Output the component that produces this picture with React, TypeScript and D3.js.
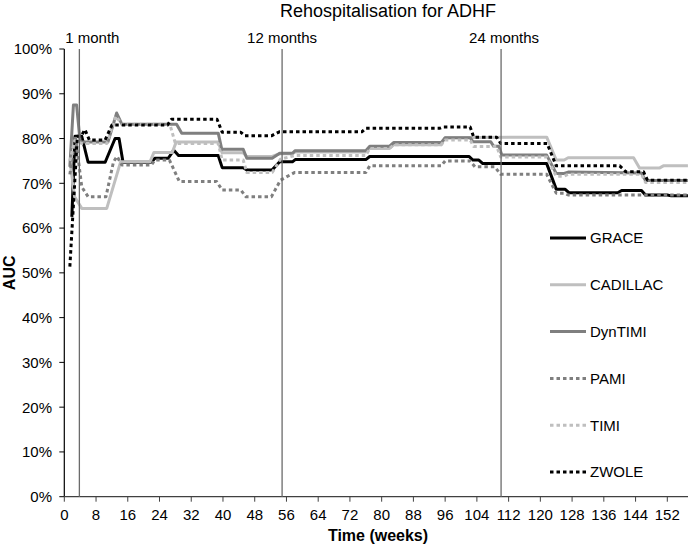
import React from "react";
import * as d3 from "d3";

type Pt = [number, number];

const xTicks: number[] = d3.range(0, 153, 8);
const yTicks: number[] = d3.range(0, 101, 10);

const refLines = [
  { week: 3.8, label: "1 month", dx: 13 },
  { week: 54.9, label: "12 months", dx: 0 },
  { week: 110.1, label: "24 months", dx: 3 },
];

const GRACE: Pt[] = [
  [1.9, 62.5], [2.7, 80.5], [4.4, 80.5], [6.0, 74.7], [10.3, 74.7], [12.8, 80], [13.8, 80], [14.8, 74.7],
  [22.0, 74.7], [22.8, 75.6], [26.2, 75.6], [27.6, 77.4], [28.8, 76.2], [38.8, 76.2], [39.8, 73.5],
  [45.1, 73.5], [46.0, 73.0], [52.4, 73.0], [54.3, 74.8], [57.5, 74.8], [58.2, 75.3], [76, 75.3],
  [77, 76.0], [102, 76.0], [103, 75.2], [104.5, 75.2], [105.5, 74.4], [121.6, 74.4], [124, 68.7],
  [126.2, 68.7], [127.2, 67.9], [139.5, 67.9], [140.5, 68.4], [145.5, 68.4], [146.5, 67.4], [152, 67.4],
  [153, 67.2], [157.2, 67.2],
];

const CADILLAC: Pt[] = [
  [1.5, 74.5], [2.6, 67], [4.4, 64.4], [10.7, 64.4], [14.2, 74.8], [21.6, 74.8], [22.6, 76.9], [27.2, 76.9],
  [28.2, 79.2], [38.8, 79.2], [39.8, 76.8], [45.1, 76.8], [46, 76.0], [52.4, 76.0], [54.3, 76.6], [57.5, 76.6],
  [58.2, 77.0], [76, 77.0], [77, 77.8], [82, 77.8], [83, 78.6], [95, 78.6], [96, 80.2], [121.6, 80.3],
  [124, 75.2], [126, 75.2], [127, 75.7], [143.5, 75.7], [145, 73.4], [150, 73.4], [151, 73.9], [157.2, 73.9],
];

const DynTIMI: Pt[] = [
  [1.4, 73.7], [2.3, 87.5], [3.1, 87.5], [4.0, 79.2], [11, 79.2], [13.2, 85.7], [14.5, 83.2], [28.3, 83.2],
  [29.6, 81.2], [38.8, 81.2], [39.7, 77.6], [45.1, 77.6], [46, 75.6], [52.4, 75.6], [54.3, 76.7],
  [57.5, 76.7], [58.2, 77.3], [76, 77.3], [77, 78.3], [82, 78.3], [83, 79.1], [95, 79.1], [96, 80.2],
  [102.3, 80.2], [103, 79.3], [107.5, 79.3], [108.2, 78.3], [109.5, 78.3], [110.3, 76.3], [121.6, 76.3],
  [124, 72.2], [126, 72.2], [127, 72.5], [145.5, 72.3], [146.5, 70.6], [157.2, 70.6],
];

const PAMI: Pt[] = [
  [1.4, 72], [2.8, 80.5], [4.4, 69.2], [6, 67], [10.5, 67], [12.4, 74.8], [13.3, 76], [14.5, 74.1],
  [22, 74.1], [22.8, 75.2], [26.5, 75.2], [29, 70.4], [38.4, 70.4], [39.8, 68.5], [44.5, 68.5],
  [45.8, 67], [52.2, 67], [54.5, 70.7], [58, 72.4], [76, 72.4], [77, 73.9], [95, 73.9], [96, 75],
  [102.3, 75], [103.5, 73.7], [108.5, 73.7], [110, 72], [121.6, 72], [124, 67.8], [126, 67.8],
  [127, 67.4], [157.2, 67.4],
];

const TIMI: Pt[] = [
  [1.4, 75], [2.6, 79.5], [4.4, 78.9], [10.7, 78.9], [13, 85], [14.5, 83.2], [26.6, 83.2], [28, 78.9],
  [38.8, 78.9], [39.8, 75.2], [45.1, 75.2], [46, 72.4], [52.4, 72.4], [54.5, 75.4], [58, 76.2], [76, 76.2],
  [77, 77.8], [82, 77.8], [83, 78.6], [95, 78.6], [96, 79.7], [102.3, 79.7], [103.2, 78.2], [109, 78.2],
  [110, 75.9], [121.6, 75.9], [124, 71.6], [126, 71.6], [127, 72.0], [145.5, 72.0], [146.5, 70.2],
  [157.2, 70.2],
];

const ZWOLE: Pt[] = [
  [1.4, 51.4], [3.3, 80.5], [4.2, 80.5], [5.2, 82], [6.3, 79.7], [10.3, 79.7], [12, 83], [26, 83],
  [27, 84.3], [38.5, 84.3], [39.8, 81.4], [44.5, 81.4], [45.5, 80.6], [52.2, 80.6], [54.2, 81.5],
  [75, 81.5], [76, 82.3], [94.7, 82.3], [95.5, 82.6], [102.3, 82.6], [103.2, 80.3], [109, 80.3],
  [110, 78.9], [121.7, 78.9], [124, 73.9], [140, 73.9], [141.5, 72.6], [146, 72.6], [147, 70.7],
  [157.2, 70.7],
];

const seriesNames = ["GRACE", "CADILLAC", "DynTIMI", "PAMI", "TIMI", "ZWOLE"];
const seriesData: Pt[][] = [GRACE, CADILLAC, DynTIMI, PAMI, TIMI, ZWOLE];
const seriesColors = ["#000000", "#bfbfbf", "#7f7f7f", "#7f7f7f", "#bfbfbf", "#000000"];
const seriesDashed = [false, false, false, true, true, true];

const FONT = "'Liberation Sans', Arial, Helvetica, sans-serif";

export default function App() {
  const W = 688;
  const H = 547;
  const x = d3.scaleLinear().domain([0, 152]).range([64.3, 667.3]);
  const y = d3.scaleLinear().domain([0, 100]).range([496.7, 49]);
  const line = d3
    .line<Pt>()
    .x((d) => x(d[0]))
    .y((d) => y(d[1]))
    .curve(d3.curveLinear);

  const legendY = d3.scaleLinear().domain([0, 5]).range([238, 472]);

  return (
    <svg
      width={W}
      height={H}
      style={{ position: "absolute", left: 0, top: 0, background: "#fff" }}
      fontFamily={FONT}
    >
      <rect x={0} y={0} width={W} height={H} fill="#fff" />
      <text x={388} y={17} fontSize={18} textAnchor="middle" fill="#000">
        Rehospitalisation for ADHF
      </text>

      {/* y axis */}
      <line x1={x(0)} x2={x(0)} y1={y(100)} y2={y(0)} stroke="#000" strokeWidth={1.2} />
      {yTicks.map((t) => (
        <g key={"y" + t}>
          <line x1={x(0) - 5} x2={x(0)} y1={y(t)} y2={y(t)} stroke="#000" strokeWidth={1} />
          <text x={52} y={y(t)} dy="0.36em" fontSize={15} textAnchor="end" fill="#000">
            {t + "%"}
          </text>
        </g>
      ))}

      {/* x axis */}
      <line x1={x(0)} x2={W} y1={y(0)} y2={y(0)} stroke="#404040" strokeWidth={1.2} />
      {xTicks.map((t) => (
        <g key={"x" + t}>
          <line x1={x(t)} x2={x(t)} y1={y(0)} y2={y(0) + 5} stroke="#404040" strokeWidth={1} />
          <text x={x(t)} y={520} fontSize={15} textAnchor="middle" fill="#000">
            {t}
          </text>
        </g>
      ))}

      <text x={378} y={541} fontSize={16} fontWeight="bold" textAnchor="middle" fill="#000">
        Time (weeks)
      </text>
      <text
        transform={`translate(15, ${y(50)}) rotate(-90)`}
        fontSize={16}
        fontWeight="bold"
        textAnchor="middle"
        fill="#000"
      >
        AUC
      </text>

      {/* series */}
      {seriesData.map((d, i) => (
        <path
          key={seriesNames[i]}
          d={line(d) || ""}
          fill="none"
          stroke={seriesColors[i]}
          strokeWidth={3}
          strokeDasharray={seriesDashed[i] ? "3.5 3" : undefined}
          strokeLinejoin="round"
        />
      ))}

      {/* reference lines */}
      {refLines.map((r) => (
        <g key={r.label}>
          <line x1={x(r.week)} x2={x(r.week)} y1={y(100)} y2={y(0)} stroke="#6b6b6b" strokeWidth={1.3} />
          <text x={x(r.week) + r.dx} y={43} fontSize={15} textAnchor="middle" fill="#000">
            {r.label}
          </text>
        </g>
      ))}

      {/* legend */}
      {seriesNames.map((n, i) => (
        <g key={"leg" + n}>
          <line
            x1={550}
            x2={586}
            y1={legendY(i)}
            y2={legendY(i)}
            stroke={seriesColors[i]}
            strokeWidth={3}
            strokeDasharray={seriesDashed[i] ? "3.5 3" : undefined}
          />
          <text x={590} y={legendY(i)} dy="0.36em" fontSize={15} fill="#000">
            {n}
          </text>
        </g>
      ))}
    </svg>
  );
}
